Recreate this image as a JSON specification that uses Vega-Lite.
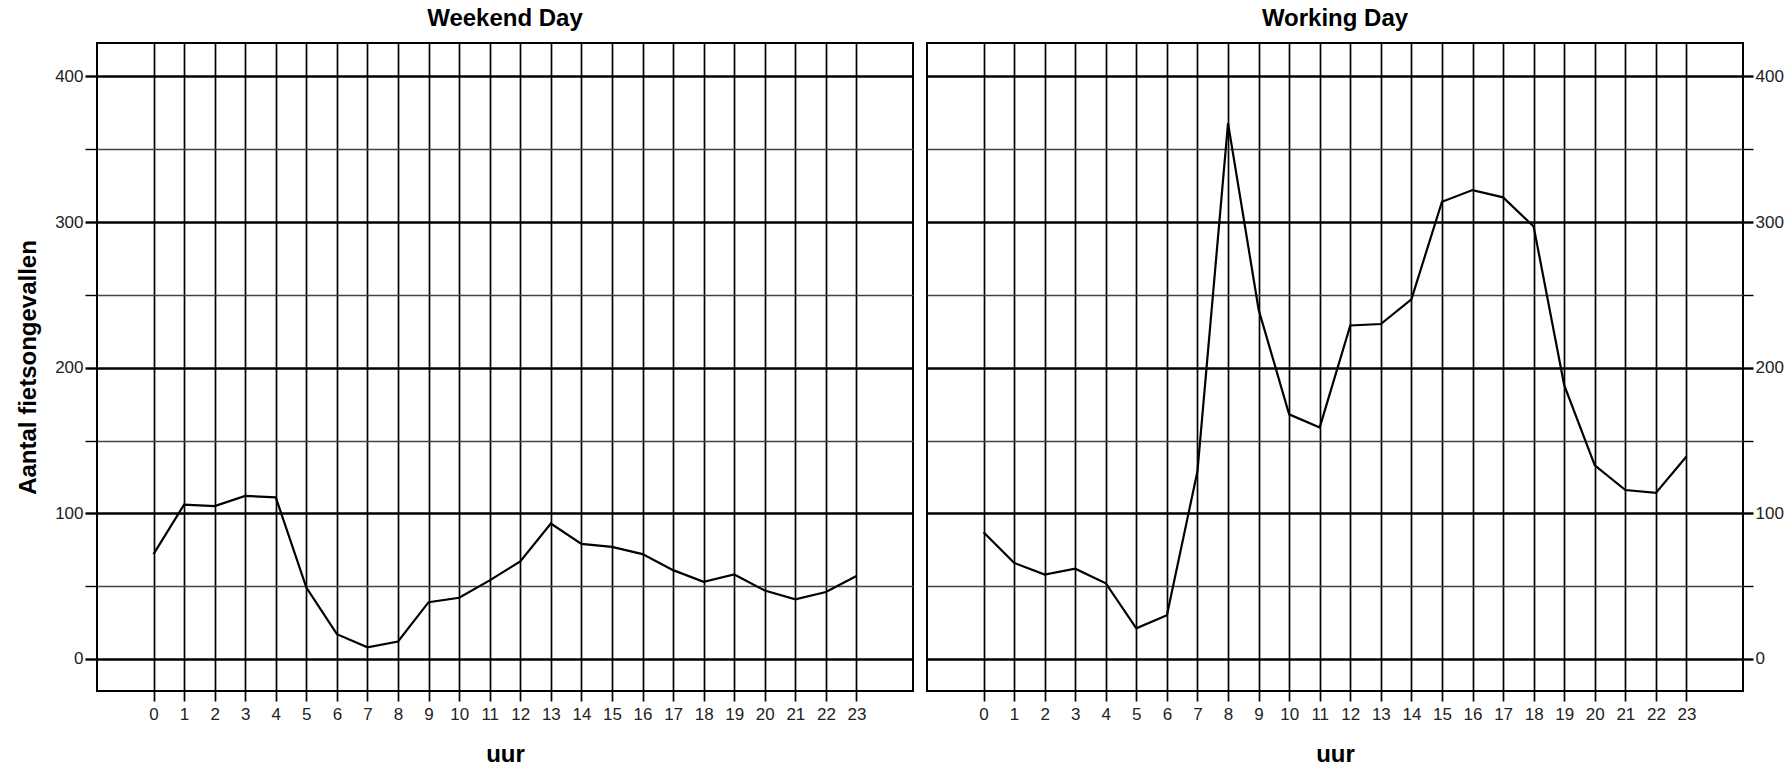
{
  "$schema": "https://vega.github.io/schema/vega-lite/v6.json",
  "padding": {"left": 15, "top": 6, "right": 0, "bottom": 0},
  "background": "white",
  "spacing": 12,
  "config": {
    "font": "Liberation Sans",
    "view": {"stroke": "black", "strokeWidth": 2},
    "title": {"fontSize": 24, "fontWeight": "bold", "color": "black", "offset": 12, "anchor": "middle"},
    "axis": {
      "domain": false,
      "labelFont": "Liberation Sans",
      "labelFontSize": 17,
      "labelColor": "#222222",
      "titleFont": "Liberation Sans",
      "titleFontSize": 24,
      "titleFontWeight": "bold",
      "titleColor": "black",
      "tickColor": "black",
      "gridColor": "black"
    }
  },
  "datasets": {
    "d": [
      {"dag": "Weekend Day", "uur": 0, "aantal": 72},
      {"dag": "Weekend Day", "uur": 1, "aantal": 106},
      {"dag": "Weekend Day", "uur": 2, "aantal": 105},
      {"dag": "Weekend Day", "uur": 3, "aantal": 112},
      {"dag": "Weekend Day", "uur": 4, "aantal": 111},
      {"dag": "Weekend Day", "uur": 5, "aantal": 49},
      {"dag": "Weekend Day", "uur": 6, "aantal": 17},
      {"dag": "Weekend Day", "uur": 7, "aantal": 8},
      {"dag": "Weekend Day", "uur": 8, "aantal": 12},
      {"dag": "Weekend Day", "uur": 9, "aantal": 39},
      {"dag": "Weekend Day", "uur": 10, "aantal": 42},
      {"dag": "Weekend Day", "uur": 11, "aantal": 54},
      {"dag": "Weekend Day", "uur": 12, "aantal": 67},
      {"dag": "Weekend Day", "uur": 13, "aantal": 93},
      {"dag": "Weekend Day", "uur": 14, "aantal": 79},
      {"dag": "Weekend Day", "uur": 15, "aantal": 77},
      {"dag": "Weekend Day", "uur": 16, "aantal": 72},
      {"dag": "Weekend Day", "uur": 17, "aantal": 61},
      {"dag": "Weekend Day", "uur": 18, "aantal": 53},
      {"dag": "Weekend Day", "uur": 19, "aantal": 58},
      {"dag": "Weekend Day", "uur": 20, "aantal": 47},
      {"dag": "Weekend Day", "uur": 21, "aantal": 41},
      {"dag": "Weekend Day", "uur": 22, "aantal": 46},
      {"dag": "Weekend Day", "uur": 23, "aantal": 57},
      {"dag": "Working Day", "uur": 0, "aantal": 87},
      {"dag": "Working Day", "uur": 1, "aantal": 66},
      {"dag": "Working Day", "uur": 2, "aantal": 58},
      {"dag": "Working Day", "uur": 3, "aantal": 62},
      {"dag": "Working Day", "uur": 4, "aantal": 52},
      {"dag": "Working Day", "uur": 5, "aantal": 21},
      {"dag": "Working Day", "uur": 6, "aantal": 30},
      {"dag": "Working Day", "uur": 7, "aantal": 129},
      {"dag": "Working Day", "uur": 8, "aantal": 368},
      {"dag": "Working Day", "uur": 9, "aantal": 240},
      {"dag": "Working Day", "uur": 10, "aantal": 168},
      {"dag": "Working Day", "uur": 11, "aantal": 159},
      {"dag": "Working Day", "uur": 12, "aantal": 229},
      {"dag": "Working Day", "uur": 13, "aantal": 230},
      {"dag": "Working Day", "uur": 14, "aantal": 247},
      {"dag": "Working Day", "uur": 15, "aantal": 314},
      {"dag": "Working Day", "uur": 16, "aantal": 322},
      {"dag": "Working Day", "uur": 17, "aantal": 317},
      {"dag": "Working Day", "uur": 18, "aantal": 297},
      {"dag": "Working Day", "uur": 19, "aantal": 188},
      {"dag": "Working Day", "uur": 20, "aantal": 133},
      {"dag": "Working Day", "uur": 21, "aantal": 116},
      {"dag": "Working Day", "uur": 22, "aantal": 114},
      {"dag": "Working Day", "uur": 23, "aantal": 139}
    ]
  },
  "hconcat": [
    {
      "title": "Weekend Day",
      "width": 816,
      "height": 648,
      "data": {"name": "d"},
      "transform": [{"filter": "datum.dag === 'Weekend Day'"}],
      "mark": {"type": "line", "color": "black", "strokeWidth": 2.2},
      "encoding": {
        "x": {
          "field": "uur", "type": "quantitative",
          "scale": {"domain": [-1.85, 24.85], "nice": false, "zero": false},
          "axis": {
            "title": "uur",
            "values": [0,1,2,3,4,5,6,7,8,9,10,11,12,13,14,15,16,17,18,19,20,21,22,23],
            "grid": true, "gridWidth": 1.7,
            "tickSize": 10, "tickWidth": 1.7,
            "labelPadding": 5, "titlePadding": 20, "labelFlush": false
          }
        },
        "y": {
          "field": "aantal", "type": "quantitative",
          "scale": {"domain": [-22, 423], "nice": false, "zero": false},
          "axis": {
            "orient": "left",
            "title": "Aantal fietsongevallen",
            "values": [0, 50, 100, 150, 200, 250, 300, 350, 400],
            "labelExpr": "datum.value % 100 === 0 ? datum.label : ''",
            "grid": true,
            "gridWidth": {"condition": {"test": "datum.value % 100 === 0", "value": 2.4}, "value": 1.4},
            "gridColor": {"condition": {"test": "datum.value % 100 === 0", "value": "black"}, "value": "#444444"},
            "tickSize": 12,
            "tickWidth": {"condition": {"test": "datum.value % 100 === 0", "value": 2.4}, "value": 1.4},
            "labelPadding": 2, "titlePadding": 14, "labelFlush": false
          }
        }
      }
    },
    {
      "title": "Working Day",
      "width": 816,
      "height": 648,
      "data": {"name": "d"},
      "transform": [{"filter": "datum.dag === 'Working Day'"}],
      "mark": {"type": "line", "color": "black", "strokeWidth": 2.2},
      "encoding": {
        "x": {
          "field": "uur", "type": "quantitative",
          "scale": {"domain": [-1.85, 24.85], "nice": false, "zero": false},
          "axis": {
            "title": "uur",
            "values": [0,1,2,3,4,5,6,7,8,9,10,11,12,13,14,15,16,17,18,19,20,21,22,23],
            "grid": true, "gridWidth": 1.7,
            "tickSize": 10, "tickWidth": 1.7,
            "labelPadding": 5, "titlePadding": 20, "labelFlush": false
          }
        },
        "y": {
          "field": "aantal", "type": "quantitative",
          "scale": {"domain": [-22, 423], "nice": false, "zero": false},
          "axis": {
            "orient": "right",
            "title": null,
            "values": [0, 50, 100, 150, 200, 250, 300, 350, 400],
            "labelExpr": "datum.value % 100 === 0 ? datum.label : ''",
            "grid": true,
            "gridWidth": {"condition": {"test": "datum.value % 100 === 0", "value": 2.4}, "value": 1.4},
            "gridColor": {"condition": {"test": "datum.value % 100 === 0", "value": "black"}, "value": "#444444"},
            "tickSize": 10,
            "tickWidth": {"condition": {"test": "datum.value % 100 === 0", "value": 2.4}, "value": 1.4},
            "labelPadding": 2, "labelFlush": false
          }
        }
      }
    }
  ]
}
